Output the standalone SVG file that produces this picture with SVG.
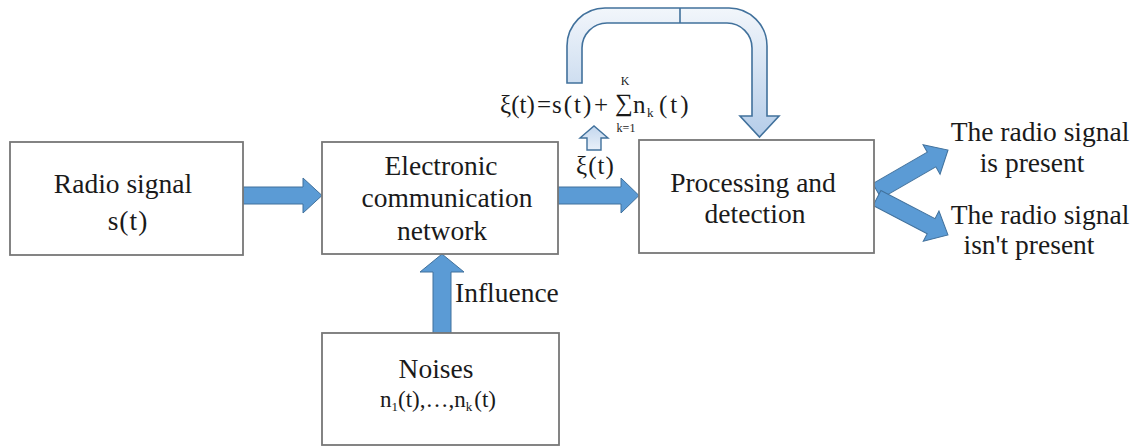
<svg xmlns="http://www.w3.org/2000/svg" width="1137" height="447" viewBox="0 0 1137 447">
<defs>
<style>
text{font-family:"Liberation Serif","Times New Roman",serif;fill:#1a1a1a}
.box{fill:#fff;stroke:#777;stroke-width:1.8}
.t{font-size:27.5px}
.m{font-size:25px}
.s{font-size:12px}
.blk{fill:#5b9bd5;stroke:#41719c;stroke-width:1}
.grd{fill:url(#g1);stroke:#41719c;stroke-width:1.6}
</style>
<linearGradient id="g1" gradientUnits="userSpaceOnUse" x1="0" y1="8" x2="0" y2="137">
<stop offset="0" stop-color="#f2f6fb"/>
<stop offset="1" stop-color="#b5cde9"/>
</linearGradient>
<linearGradient id="g2" gradientUnits="userSpaceOnUse" x1="0" y1="126" x2="0" y2="150">
<stop offset="0" stop-color="#c3d7ee"/>
<stop offset="1" stop-color="#e9f0f9"/>
</linearGradient>
</defs>

<g id="connectors">
<polygon class="blk" points="243,187 303,187 303,178 322,195.5 303,213 303,204 243,204"/>
<polygon class="blk" points="558,187 621,187 621,178 639,195.5 621,213 621,204 558,204"/>
<polygon class="blk" points="433,333 433,272 420,272 442,254 464,272 451,272 451,333"/>
<polygon class="blk" transform="translate(877,191) rotate(-30)" points="0,-8.5 63,-8.5 63,-17 82,0 63,17 63,8.5 0,8.5"/>
<polygon class="blk" transform="translate(877,198) rotate(27.5)" points="0,-8.5 61,-8.5 61,-17 80,0 61,17 61,8.5 0,8.5"/>
<path class="grd" d="M567,83 L567,46 A38,38 0 0 1 605,8 L729,8 A38,38 0 0 1 767,46 L767,116 L779,116 L759.5,137 L740,116 L752,116 L752,48 A25,25 0 0 0 727,23 L607,23 A25,25 0 0 0 582,48 L582,83 Z"/>
<line x1="680" y1="8" x2="680" y2="23" stroke="#41719c" stroke-width="1.6"/>
<polygon points="587,150 587,138 580,138 594,126 608,138 601,138 601,150" fill="url(#g2)" stroke="#41719c" stroke-width="1.4"/>
</g>

<g id="radio">
<rect class="box" x="10" y="142" width="233" height="113"/>
<text class="t" x="123" y="193" text-anchor="middle">Radio signal</text>
<text class="t" x="128" y="230" text-anchor="middle" letter-spacing="1">s(t)</text>
</g>

<g id="network">
<rect class="box" x="322" y="142" width="236" height="112"/>
<text class="t" x="441" y="175" text-anchor="middle">Electronic</text>
<text class="t" x="447" y="207" text-anchor="middle">communication</text>
<text class="t" x="442" y="240" text-anchor="middle">network</text>
</g>

<g id="noises">
<rect class="box" x="322" y="333" width="237" height="112"/>
<text class="t" x="436" y="378" text-anchor="middle">Noises</text>
<text x="438" y="407" text-anchor="middle" style="font-size:23px">n<tspan dy="4" style="font-size:13px">1</tspan><tspan dy="-4">(t),…,n</tspan><tspan dy="4" style="font-size:13px">k</tspan><tspan dy="-4" dx="2">(t)</tspan></text>
</g>

<g id="processing">
<rect class="box" x="639" y="140" width="235" height="113"/>
<text class="t" x="753" y="192" text-anchor="middle">Processing and</text>
<text class="t" x="755" y="223" text-anchor="middle">detection</text>
</g>

<g id="labels">
<text class="t" x="455" y="302">Influence</text>
<text class="m" x="576" y="174" letter-spacing="1">ξ(t)</text>
<text class="m" x="500" y="113">ξ(t)</text>
<text class="m" x="537" y="113">=</text>
<text class="m" x="552" y="113" letter-spacing="2">s(t)</text>
<text class="m" x="594" y="113">+</text>
<text x="615" y="111" style="font-size:25px">∑</text>
<text class="s" x="625" y="85" text-anchor="middle">K</text>
<text class="s" x="626" y="132" text-anchor="middle">k=1</text>
<text class="m" x="633" y="113">n</text>
<text x="647" y="117" style="font-size:13px">k</text>
<text class="m" x="659" y="113" letter-spacing="3">(t)</text>
</g>

<g id="outcome-present">
<text class="t" x="1040" y="141" text-anchor="middle">The radio signal</text>
<text class="t" x="1032" y="172" text-anchor="middle">is present</text>
</g>
<g id="outcome-absent">
<text class="t" x="1040" y="224" text-anchor="middle">The radio signal</text>
<text class="t" x="1029" y="254" text-anchor="middle">isn't present</text>
</g>
</svg>
